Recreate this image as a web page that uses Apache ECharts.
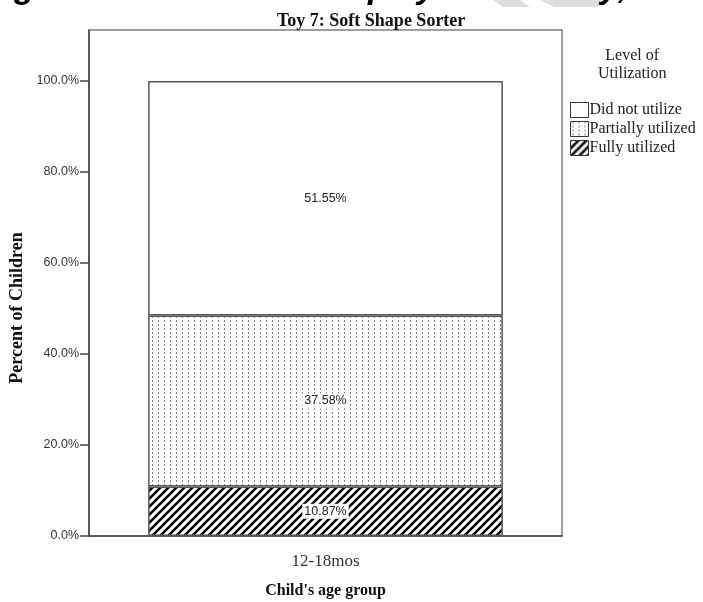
<!DOCTYPE html>
<html>
<head>
<meta charset="utf-8">
<script src="https://cdn.jsdelivr.net/npm/echarts@6/dist/echarts.min.js"></script>
<style>html,body{margin:0;padding:0;background:#fff}#c{width:703px;height:602px}</style>
</head>
<body>
<div id="c"></div>
<script>
const categories = ['12-18mos'];
const fullyUtilized = [10.87];
const partiallyUtilized = [37.58];
const didNotUtilize = [51.55];
const yTicks = [0, 20, 40, 60, 80, 100];
const legendNames = ['Did not utilize', 'Partially utilized', 'Fully utilized'];

function makeDots() {
  const c = document.createElement('canvas'); c.width = 6; c.height = 4;
  const g = c.getContext('2d');
  g.fillStyle = '#fff'; g.fillRect(0, 0, 6, 4);
  g.fillStyle = '#808080'; g.fillRect(2, 0, 1, 2);
  return c;
}
function makeHatch() {
  const s = 8, c = document.createElement('canvas'); c.width = s; c.height = s;
  const g = c.getContext('2d');
  g.fillStyle = '#fff'; g.fillRect(0, 0, s, s);
  g.strokeStyle = '#000'; g.lineWidth = 2.6; g.lineCap = 'square';
  g.beginPath();
  g.moveTo(-2, 2); g.lineTo(2, -2);
  g.moveTo(0, s); g.lineTo(s, 0);
  g.moveTo(s - 2, s + 2); g.lineTo(s + 2, s - 2);
  g.stroke();
  return c;
}
const dots = { image: makeDots(), repeat: 'repeat' };
const hatch = { image: makeHatch(), repeat: 'repeat' };

const serif = '"Liberation Serif", "DejaVu Serif", serif';
const sans = '"Liberation Sans", Arial, sans-serif';

const labelOpt = {
  show: true, position: 'inside',
  formatter: p => p.value.toFixed(2) + '%',
  backgroundColor: '#fff', padding: [1, 2],
  color: '#222', fontFamily: sans, fontSize: 12.5
};
const border = { borderColor: '#555', borderWidth: 1.5 };

const chart = echarts.init(document.getElementById('c'));
chart.setOption({
  animation: false,
  backgroundColor: '#fff',
  title: {
    text: 'Toy 7: Soft Shape Sorter', left: 272, top: 7,
    textStyle: { fontFamily: serif, fontWeight: 'bold', fontSize: 18, color: '#111' }
  },
  graphic: [
    { type: 'text', left: 598, top: 47, style: { text: 'Level of\nUtilization', textAlign: 'center', x: 35, fontFamily: serif, fontSize: 16, lineHeight: 18, fill: '#222' } },
    { type: 'text', x: 17, y: 308, rotation: Math.PI / 2, style: { text: 'Percent of Children', textAlign: 'center', textVerticalAlign: 'middle', fontFamily: serif, fontWeight: 'bold', fontSize: 18, fill: '#111' } },
    { type: 'text', left: 14, top: -28, style: { text: 'g', fontFamily: sans, fontWeight: 'bold', fontStyle: 'italic', fontSize: 34, fill: '#000' } },
    { type: 'text', left: 368, top: -28, style: { text: 'play', fontFamily: sans, fontWeight: 'bold', fontStyle: 'italic', fontSize: 34, fill: '#000' } },
    { type: 'polygon', shape: { points: [[493, 0], [520, 0], [530, 7], [503, 7]] }, style: { fill: '#dddddd' } },
    { type: 'polygon', shape: { points: [[540, 0], [600, 0], [598, 7], [555, 7]] }, style: { fill: '#dddddd' } },
    { type: 'text', left: 600, top: -28, style: { text: 'y,', fontFamily: sans, fontWeight: 'bold', fontStyle: 'italic', fontSize: 34, fill: '#000' } }
  ],
  legend: {
    orient: 'vertical', left: 565, top: 97, itemWidth: 18, itemHeight: 15, itemGap: 3,
    icon: 'rect', data: legendNames,
    itemStyle: { borderColor: '#333', borderWidth: 1 },
    textStyle: { fontFamily: serif, fontSize: 16, color: '#222', padding: [0, 0, 0, -4] }
  },
  grid: { left: 89, right: 141, top: 30, bottom: 66, containLabel: false, outerBoundsMode: 'none', show: true, borderColor: '#808080', borderWidth: 1.5 },
  xAxis: {
    type: 'category', data: categories,
    axisLine: { lineStyle: { color: '#444', width: 1.5 } },
    axisTick: { alignWithLabel: true, length: 10, lineStyle: { color: '#444', width: 1.5 } },
    axisLabel: { fontFamily: serif, fontSize: 17, color: '#333', margin: 17 },
    name: "Child's age group", nameLocation: 'middle', nameGap: 47,
    nameTextStyle: { fontFamily: serif, fontWeight: 'bold', fontSize: 16, color: '#111' }
  },
  yAxis: {
    type: 'value', min: 0, max: 111.2, interval: 20,
    axisLine: { show: true, lineStyle: { color: '#444', width: 1.5 } },
    axisTick: { show: true, length: 9, customValues: yTicks, lineStyle: { color: '#444', width: 1.5 } },
    axisLabel: { customValues: yTicks, formatter: v => v.toFixed(1) + '%', fontFamily: sans, fontSize: 12.5, color: '#333', margin: 10 },
    splitLine: { show: false }
  },
  series: [
    { name: 'Fully utilized', type: 'bar', stack: 't', barWidth: '75%', data: fullyUtilized, itemStyle: Object.assign({ color: hatch }, border), label: labelOpt },
    { name: 'Partially utilized', type: 'bar', stack: 't', data: partiallyUtilized, itemStyle: Object.assign({ color: dots }, border), label: labelOpt },
    { name: 'Did not utilize', type: 'bar', stack: 't', data: didNotUtilize, itemStyle: Object.assign({ color: '#fff' }, border), label: labelOpt }
  ]
});
</script>
</body>
</html>
